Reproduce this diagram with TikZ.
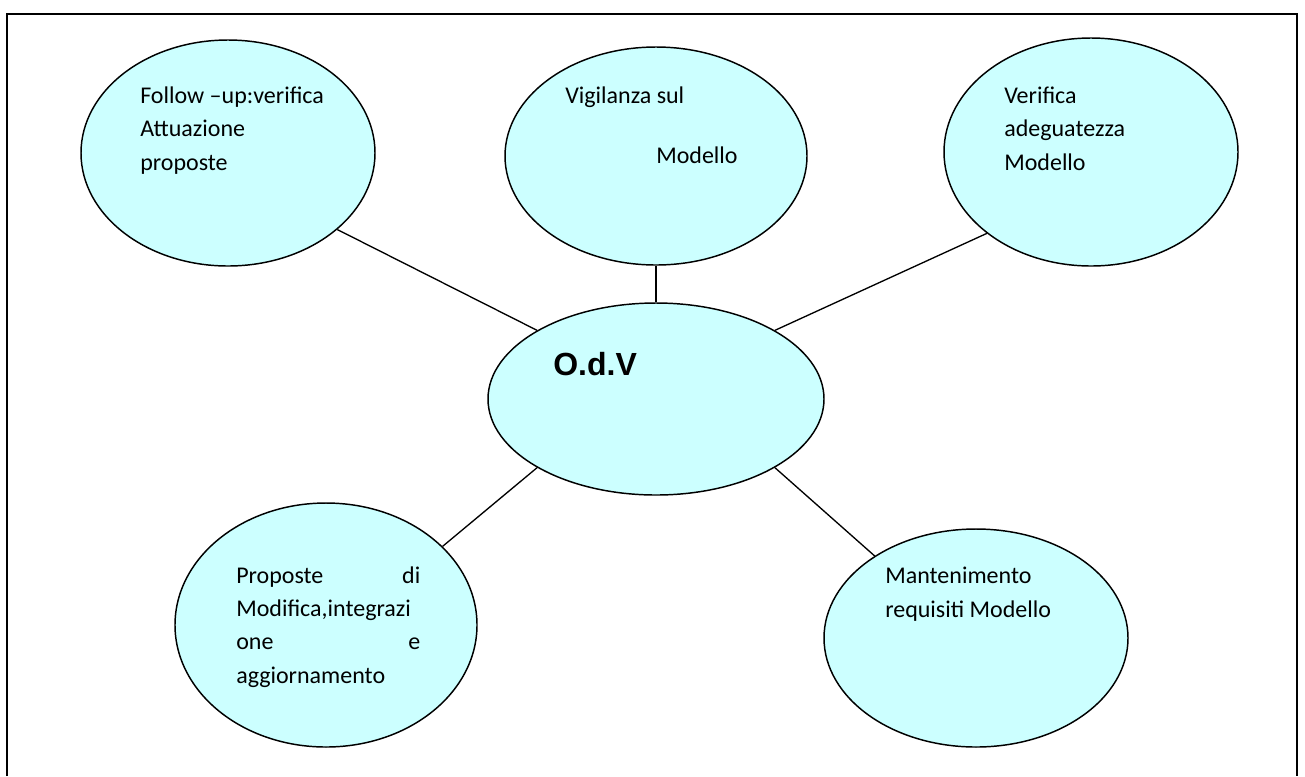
\documentclass[tikz,border=0pt]{standalone}
\usepackage{fontspec}
\setmainfont{Carlito}
\newfontfamily\arialfont{Liberation Sans}
\usetikzlibrary{shapes.geometric}
\definecolor{bubble}{HTML}{CCFFFF}
\tikzset{
  bub/.style={ellipse, draw=black, line width=1.1pt, fill=bubble, inner sep=0pt},
  lbl/.style={inner sep=0pt, anchor=base west, align=left, font=\fontsize{18pt}{25pt}\selectfont},
  link/.style={draw=black, line width=1pt},
}
\begin{document}
\begin{tikzpicture}[x=0.75pt,y=-0.75pt]
\useasboundingbox (0,0) rectangle (1305,776);
\draw[line width=1.6pt] (7,776) -- (7,14) -- (1297,14) -- (1297,776);
% bubbles
\node[bub, minimum width=220.5pt, minimum height=169.5pt] (tl) at (228,153) {};
\node[bub, minimum width=226.5pt, minimum height=163.5pt] (tm) at (656,156) {};
\node[bub, minimum width=220.5pt, minimum height=171pt] (tr) at (1091,152) {};
\node[bub, minimum width=252pt, minimum height=144pt] (c) at (656,399) {};
\node[bub, minimum width=226.5pt, minimum height=183pt] (bl) at (326,625) {};
\node[bub, minimum width=228pt, minimum height=163.5pt] (br) at (976,638) {};
% links
\draw[link] (tl.-35) -- (c.150);
\draw[link] (tm.south) -- (c.north);
\draw[link] (tr.218) -- (c.30);
\draw[link] (bl.34) -- (c.210);
\draw[link] (br.141.5) -- (c.-30);
% texts
\node[lbl] (tltext) at (140,170) {Follow –up:verifica\\Attuazione\\proposte};
\node[lbl] (tmtext1) at (565,103) {Vigilanza sul};
\node[lbl] (tmtext2) at (656,163) {Modello};
\node[lbl] (trtext) at (1004,170) {Verifica\\adeguatezza\\Modello};
\node[lbl, font=\arialfont\bfseries\fontsize{24pt}{28pt}\selectfont] (ctext) at (553,375) {O.d.V};
\node[lbl, text width=138pt] (bltext) at (236,583) {Proposte\hfill di\\Modifica,integrazi\\one\hfill e\\aggiornamento};
\node[lbl] (brtext) at (885,617) {Mantenimento\\requisiti Modello};
\end{tikzpicture}
\end{document}
